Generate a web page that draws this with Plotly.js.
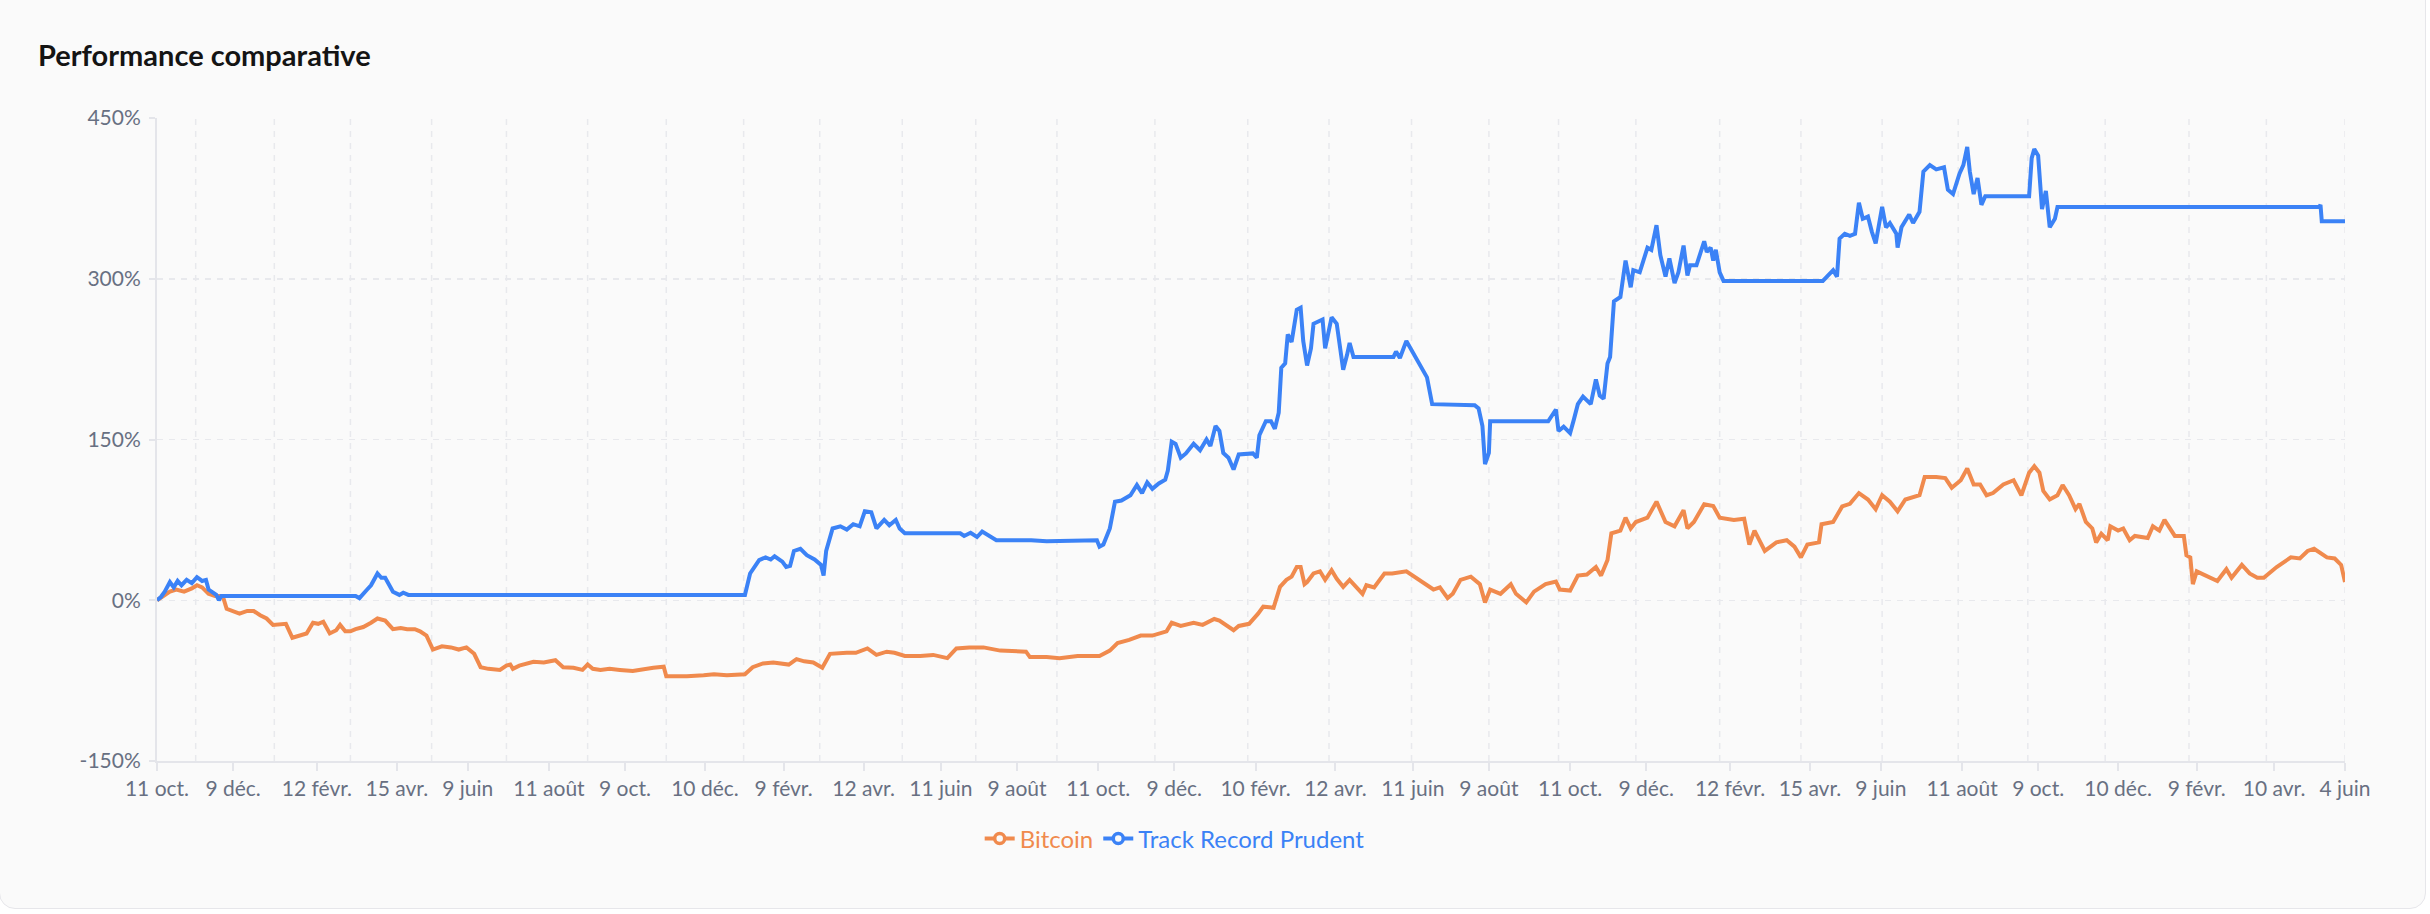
<!DOCTYPE html>
<html>
<head>
<meta charset="utf-8">
<script src="https://cdn.plot.ly/plotly-3.0.1.min.js"></script>
<style>
  html, body { margin:0; padding:0; background:#ffffff; width:2430px; height:914px; overflow:hidden; }
  #card { position:absolute; left:-1px; top:-40px; width:2427px; height:949px; background:#fafafa;
          border:1.5px solid #e6e6ea; border-radius:16px; box-sizing:border-box; }
  #chart { position:absolute; left:0; top:0; width:2430px; height:914px; }
</style>
</head>
<body>
<div id="card"></div>
<div id="chart"></div>
<script>
// ---- data (day offsets from start date, performance in %) ----
const startDate = '2021-10-11';
const endDate = '2026-06-04';

const trpDays = [0,3,6,10,13,16,19,23,27,31,35,38,40,43,46,48,50,154,157,163,166,171,174,177,183,188,191,195,
  456,460,467,472,476,479,485,488,491,494,499,504,510,515,517,519,524,530,535,540,545,549,554,558,564,568,573,576,580,
  623,626,631,636,640,645,651,678,690,729,731,734,739,743,748,755,760,764,768,772,777,782,784,787,790,794,798,804,809,
  814,817,821,824,827,831,835,839,850,853,855,860,864,867,870,872,875,877,880,884,887,889,892,895,897,901,904,906,909,
  911,915,918,920,923,925,928,959,961,964,969,975,980,985,989,1022,1025,1028,1030,1033,1034,1079,1085,1087,1091,1096,
  1099,1102,1106,1112,1116,1119,1122,1125,1127,1130,1135,1139,1143,1145,1150,1156,1159,1163,1166,1170,1173,1177,1180,
  1184,1187,1189,1194,1200,1202,1205,1207,1209,1212,1215,1292,1295,1300,1303,1305,1309,1313,1317,1320,1323,1327,1330,
  1333,1338,1341,1344,1349,1350,1353,1359,1362,1367,1370,1375,1380,1386,1389,1393,1398,1401,1404,1406,1409,1412,1415,
  1418,1452,1454,1456,1459,1462,1465,1468,1472,1474,1677,1678,1679,1697];
const trpPerf = [0,3,8,17,12,18,14,19,16,21.5,18,19,10,7,5,0,4,4,2,10,14,25,21,21,8,5,7,5,
  5,25,37.5,40,38,41,36,31,32,46,48,42,38,33,23,46,67,69,66,71,69,83,82,67,75,70,75,67,62.5,
  62.5,60,63,59,64,60,56,56,55,56,50,52,67,92,93,98,107.5,100,110,104,109,112.5,121,148,146,133,137,146,140,
  150,144,162.5,158,137.5,133,122,136,137,133,154,167,167,160,175,217,221,248,241,271,273,242,219,235,258,260,262,235,250,
  264,258,231,215,229,240,227,227,232,226,242,229,217,208,183,182,179,162.5,127,137.5,167,167,178,158,162,156,
  169,183,190,183,206,191,188,221,227,279,283,317,292,308,306,329,327,350,322,302,319,296,306,
  331,303,312.5,312.5,335,325,329,317,327,306,298,298,302,308,302,337.5,342,340,342,371,356,358,344,
  333,367,348,352,342,329,348,360,352,362.5,400,406,402,404,383,379,398,406,423,400,379,394,369,
  377,377,412.5,421,415,365,382,348,356,367,367,369,353.6,353.6];

const btcDays = [0,6,10,15,21,27,31,35,40,45,51,54,58,64,70,75,80,85,90,96,100,105,110,116,121,125,129,134,139,142,146,150,
  154,160,166,171,177,183,189,194,200,204,209,214,221,228,234,240,246,251,257,262,266,271,274,276,281,292,300,309,315,323,
  330,334,338,344,351,359,369,385,393,395,403,411,424,432,442,456,462,470,478,486,490,496,502,509,516,522,530,535,542,551,
  558,566,572,580,592,602,613,620,630,641,654,674,677,690,700,714,731,739,745,754,763,772,783,787,794,804,811,820,824,835,
  839,847,854,858,866,871,876,880,884,887,890,892,897,902,906,911,915,920,925,930,935,938,944,952,958,969,979,990,995,1001,
  1005,1011,1019,1026,1030,1034,1042,1050,1054,1062,1068,1077,1085,1088,1096,1102,1109,1116,1120,1125,1128,1135,1139,1143,
  1147,1156,1163,1170,1177,1184,1187,1192,1200,1207,1212,1223,1231,1235,1239,1247,1256,1264,1270,1275,1280,1289,1291,1300,
  1307,1313,1320,1327,1333,1338,1344,1350,1356,1367,1371,1380,1387,1392,1399,1404,1409,1414,1419,1424,1432,1440,1446,1452,
  1456,1460,1463,1468,1474,1478,1483,1488,1491,1496,1501,1504,1508,1513,1515,1521,1525,1530,1534,1544,1548,1553,1557,1562,
  1565,1572,1574,1577,1579,1582,1590,1598,1605,1609,1617,1623,1629,1634,1644,1655,1662,1668,1673,1678,1683,1689,1694,1697];
const btcPerf = [0,5,8,10,8,11,14,12,6,4,4,-8,-10,-12.5,-10,-10,-14,-17,-23,-22,-22,-35,-33,-31,-21,-22,-20,-31,-28,-23,-29,-29,
  -27,-25,-21,-17,-19,-27,-26,-27,-27,-29,-33,-46,-43,-44,-46,-44,-50,-62.5,-64,-65,-65,-61,-60,-64,-61,-57.5,-58,-56,-62.5,-63,
  -65,-60,-64,-65,-64,-65,-66,-63,-62,-71,-71,-71,-70,-69,-70,-69,-62.5,-59,-58,-59,-60,-55,-57,-58,-63,-50,-49,-49,-49,-45,
  -51,-48,-49,-52,-52,-51,-54,-45,-44,-44,-47,-48,-53,-53,-54,-52,-52,-47,-40,-37,-33,-33,-29,-21,-24,-21,-23,-17.5,-19,-28,
  -24,-22,-12.5,-6,-7,12.5,19,22,31,31,15,17,25,27,19,28,20,12.5,19,12,6,14,12,25,25,27,19,10,12,2,
  6,19,22,15,-2,10,6,15,6,-2,8,15,17.5,10,9,23,24,31,23,37.5,62.5,65,77,67,
  73,77,92,73,69,84,67,73,89.6,88,77,75,76,52,65,46,54,56,50,40,52,54,71,73,
  87.5,90,100,94,85,98,92,83,94,98,115,115,114,105,112,123,108,108,98,100,108,112,98,119,
  125,119,102,94,98,107.5,98,85,90,73,67,54,62,56,69,65,67,56,60,58,69,65,75,65,
  60,60,42,40,15,27,23,18,29,21,33,25,21,21,31,40,39,46,48,44,40,39,33,17];

const tickDates = ['2021-10-11','2021-12-09','2022-02-12','2022-04-15','2022-06-09','2022-08-11','2022-10-09','2022-12-10',
  '2023-02-09','2023-04-12','2023-06-11','2023-08-09','2023-10-11','2023-12-09','2024-02-10','2024-04-12','2024-06-11',
  '2024-08-09','2024-10-11','2024-12-09','2025-02-12','2025-04-15','2025-06-09','2025-08-11','2025-10-09','2025-12-10',
  '2026-02-09','2026-04-10','2026-06-04'];
const tickLabels = ['11 oct.','9 déc.','12 févr.','15 avr.','9 juin','11 août','9 oct.','10 déc.',
  '9 févr.','12 avr.','11 juin','9 août','11 oct.','9 déc.','10 févr.','12 avr.','11 juin',
  '9 août','11 oct.','9 déc.','12 févr.','15 avr.','9 juin','11 août','9 oct.','10 déc.',
  '9 févr.','10 avr.','4 juin'];
const gridDates = ['2021-11-10','2022-01-10','2022-03-10','2022-05-12','2022-07-09','2022-09-10','2022-11-10','2023-01-09',
  '2023-03-09','2023-05-12','2023-07-08','2023-09-09','2023-11-24','2024-02-04','2024-04-07','2024-06-10','2024-08-09',
  '2024-10-02','2024-12-01','2025-02-04','2025-04-08','2025-06-10','2025-08-08','2025-10-01','2025-11-30','2026-02-03',
  '2026-04-04','2026-06-04'];
const yTickVals = [-150, 0, 150, 300, 450];
const yTickText = ['-150%', '0%', '150%', '300%', '450%'];

const seriesNames = ['Bitcoin', 'Track Record Prudent'];
const seriesColors = ['#f08a4d', '#3b82f6'];

// ---- helpers ----
const t0 = Date.UTC(2021, 9, 11);
const toDate = d => new Date(t0 + d * 86400000).toISOString().slice(0, 10);

const FONT = 'Lato, "Open Sans", sans-serif';
const AXIS_GRAY = '#e4e5ea';
const TICK_COLOR = '#687082';

const traces = [
  { x: btcDays.map(toDate), y: btcPerf, type: 'scatter', mode: 'lines', name: seriesNames[0],
    line: { color: seriesColors[0], width: 4 }, showlegend: false, hoverinfo: 'skip' },
  { x: trpDays.map(toDate), y: trpPerf, type: 'scatter', mode: 'lines', name: seriesNames[1],
    line: { color: seriesColors[1], width: 4 }, showlegend: false, hoverinfo: 'skip' }
];
seriesNames.forEach((n, i) => {
  traces.push({ x: [null], y: [null], type: 'scatter', mode: 'lines+markers',
    name: '<span style="color:' + seriesColors[i] + '">' + n + '</span>',
    line: { color: seriesColors[i], width: 4 },
    marker: { symbol: 'circle', size: 10, color: '#fafafa', line: { color: seriesColors[i], width: 3.5 } },
    showlegend: true, hoverinfo: 'skip' });
});

const shapes = gridDates.map(d => ({
  type: 'line', xref: 'x', yref: 'paper', x0: d, x1: d, y0: 0, y1: 1, layer: 'below',
  line: { color: '#e8e9ed', width: 1.5, dash: '6px,6px' }
}));

const layout = {
  width: 2430, height: 914,
  margin: { l: 157, r: 85, t: 118, b: 153 },
  paper_bgcolor: 'rgba(0,0,0,0)', plot_bgcolor: 'rgba(0,0,0,0)',
  font: { family: FONT, size: 21, color: TICK_COLOR },
  title: { text: 'Performance comparative', xref: 'container', yref: 'container',
    x: 38 / 2430, xanchor: 'left', y: 1 - 56 / 914, yanchor: 'middle',
    font: { family: FONT, size: 29, weight: 700, color: '#141414' } },
  xaxis: { type: 'date', range: [startDate, endDate], tickmode: 'array', tickvals: tickDates, ticktext: tickLabels,
    showgrid: false, zeroline: false, showline: true, linecolor: AXIS_GRAY, linewidth: 2,
    ticks: 'outside', ticklen: 8, tickwidth: 2, tickcolor: AXIS_GRAY,
    tickfont: { family: FONT, size: 21, color: TICK_COLOR }, ticklabelstandoff: 0 },
  yaxis: { range: [-150, 450], tickmode: 'array', tickvals: yTickVals, ticktext: yTickText,
    showgrid: true, gridcolor: '#e8e9ed', gridwidth: 1.5, griddash: '6px,6px', zeroline: false,
    showline: true, linecolor: AXIS_GRAY, linewidth: 2, ticks: 'outside', ticklen: 6, tickwidth: 2, tickcolor: AXIS_GRAY,
    tickfont: { family: FONT, size: 21, color: TICK_COLOR }, ticklabelstandoff: 4 },
  shapes: shapes,
  showlegend: true,
  legend: { orientation: 'h', x: 0.376, xanchor: 'left', y: -0.121, yanchor: 'middle',
    bgcolor: 'rgba(0,0,0,0)', font: { family: FONT, size: 24 }, itemclick: false, itemdoubleclick: false },
  hovermode: false
};

Plotly.newPlot('chart', traces, layout, { staticPlot: true, displayModeBar: false });
</script>
</body>
</html>
